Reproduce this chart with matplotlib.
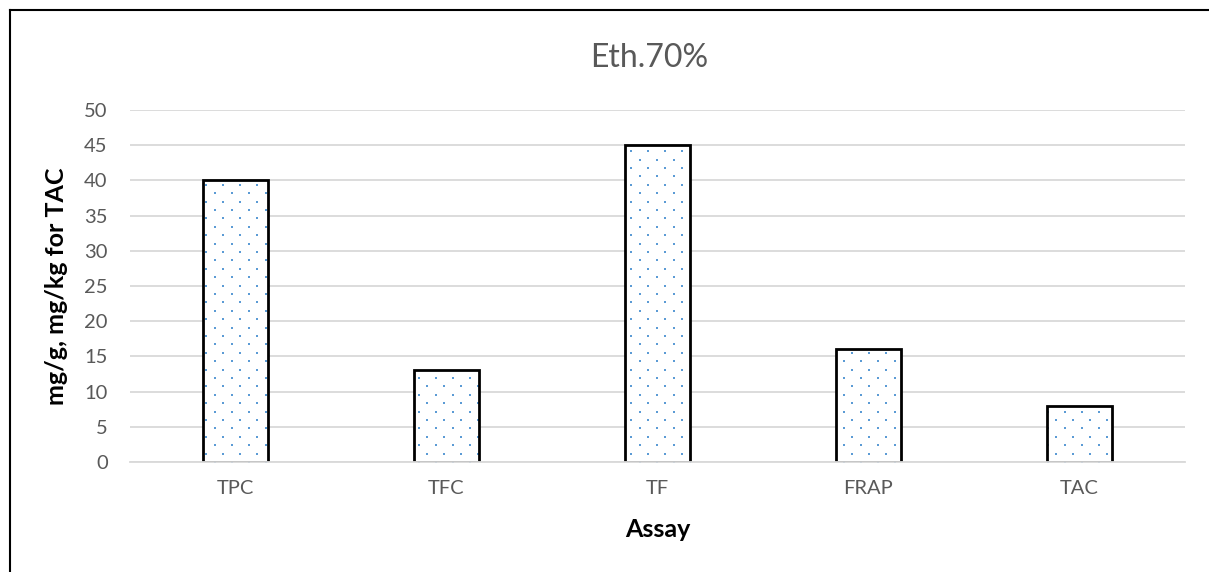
import numpy as np
import matplotlib
matplotlib.use("Agg")
import matplotlib.pyplot as plt
from matplotlib.lines import Line2D
from matplotlib.transforms import IdentityTransform

# Assay results for the 70% ethanol extract
assays = ["TPC", "TFC", "TF", "FRAP", "TAC"]
values = [40, 13, 45, 16, 8]
y_ticks = [0, 5, 10, 15, 20, 25, 30, 35, 40, 45, 50]

plt.rcParams['font.family'] = ['Lato', 'DejaVu Sans']

fig = plt.figure(figsize=(12.09, 5.72), dpi=100)
ax = fig.add_axes([0.1075, 0.1923, 0.8725, 0.6154])

x = range(len(assays))
width = 0.31
# white fill underneath, dots go on top of it, black outline last
bars = ax.bar(x, values, width=width, color="white", linewidth=0, zorder=2)
ax.bar(x, values, width=width, fill=False, edgecolor="black",
       linewidth=2.0, zorder=3)

ax.set_xlim(-0.5, len(assays) - 0.5)
ax.set_ylim(0, 50)
ax.set_yticks(y_ticks)
ax.set_xticks(list(x))
ax.set_xticklabels(assays)
ax.tick_params(axis="both", length=0, labelsize=14.5, colors="#595959")
ax.tick_params(axis="x", pad=13)
ax.tick_params(axis="y", pad=16)
ax.grid(axis="y", color="#D9D9D9", linewidth=1.3, zorder=0)
ax.set_axisbelow(True)
for side in ["top", "right", "left"]:
    ax.spines[side].set_visible(False)
ax.spines["bottom"].set_color("#D9D9D9")
ax.spines["bottom"].set_linewidth(1.3)
ax.spines["bottom"].set_zorder(5)

ax.set_xlabel("Assay", fontsize=18, fontweight="bold", color="black", labelpad=15)
ax.set_ylabel("mg/g, mg/kg for TAC", fontsize=18, fontweight="bold",
              color="black", labelpad=12)

fig.text(0.537, 0.899, "Eth.70%", ha="center", va="center",
         fontsize=23, color="#595959")

# dotted fill pattern: staggered lattice in pixel space, clipped to each bar
fig.canvas.draw()
bb = ax.get_window_extent()
step_x, step_y = 17.0, 8.4
rows = np.arange(bb.y0, bb.y1 + step_y, step_y)
px, py = [], []
for i, yy in enumerate(rows):
    off = 0 if i % 2 == 0 else step_x / 2
    xs = np.arange(bb.x0 + off, bb.x1 + step_x, step_x)
    px.extend(xs)
    py.extend([yy] * len(xs))
for bar in bars:
    dots = ax.scatter(px, py, s=4, marker="s", color="#5B9BD5",
                      linewidths=0, transform=IdentityTransform(), zorder=2.5)
    dots.set_clip_path(bar)

# frame lines along the left and top edges
fig.add_artist(Line2D([10 / 1209, 10 / 1209], [0, 1 - 10 / 572],
                      transform=fig.transFigure, color="black", linewidth=1.5))
fig.add_artist(Line2D([10 / 1209, 1], [1 - 10 / 572, 1 - 10 / 572],
                      transform=fig.transFigure, color="black", linewidth=1.5))

fig.savefig("out.png", dpi=100)
